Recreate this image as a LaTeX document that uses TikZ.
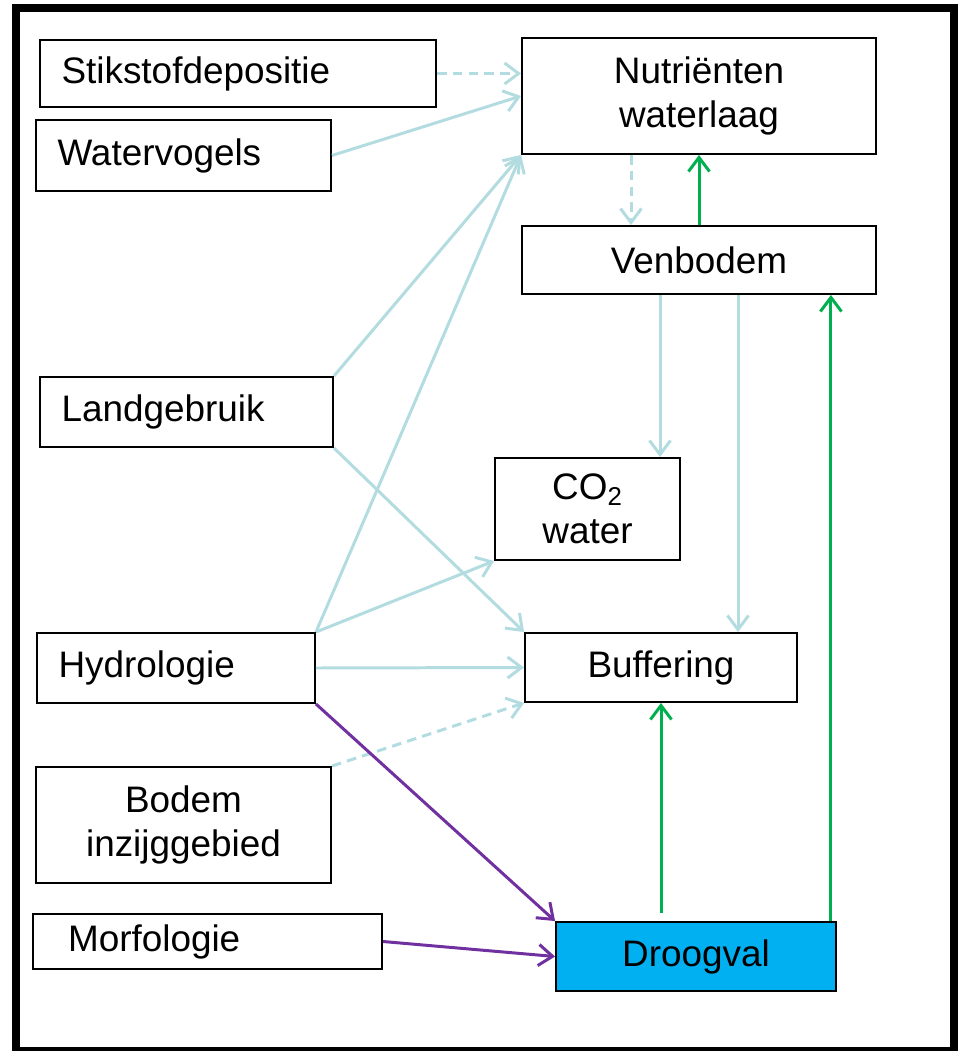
\documentclass[tikz,border=0pt]{standalone}
\usepackage{fontspec}
\setmainfont{Liberation Sans}
\usetikzlibrary{arrows.meta,calc}

\definecolor{lichtblauw}{HTML}{B2DCE0}
\definecolor{groen}{HTML}{00B050}
\definecolor{paars}{HTML}{7030A0}
\definecolor{cyaan}{HTML}{00B0F0}

\begin{document}
\begin{tikzpicture}[x=0.02cm, y=-0.02cm,
    box/.style={draw=black, line width=1.1pt, fill=white, inner sep=0pt, align=center, font=\fontsize{21}{25}\selectfont},
    lbox/.style={box, align=left, inner xsep=0.43cm, text width=#1},
    pijl/.style={line width=1.7pt, -{Straight Barb[length=8pt,width=12pt]}},
    licht/.style={pijl, draw=lichtblauw},
    stippel/.style={licht, dash pattern=on 5.5pt off 3.5pt},
    groenpijl/.style={pijl, draw=groen},
    paarspijl/.style={pijl, draw=paars}]

            \useasboundingbox (0,0) rectangle (961,1051);
            \draw[line width=4.5pt] (16,8) rectangle (954,1051);

            \node[lbox=7.06cm, minimum height=1.34cm] (stik) at (238,73.5) {Stikstofdepositie};
            \node[lbox=5.04cm, minimum height=1.42cm] (vogels) at (183.5,155.5) {Watervogels};
            \node[box, minimum width=7.08cm, minimum height=2.32cm] (nutr) at (699,96) {Nutriënten\\waterlaag};
            \node[box, minimum width=7.08cm, minimum height=1.36cm] (venb) at (699,260) {Venbodem};
            \node[lbox=5.0cm, minimum height=1.4cm] (land) at (186.5,412) {Landgebruik};
            \node[box, minimum width=3.7cm, minimum height=2.04cm] (co2) at (587.5,509) {CO\textsubscript{2}\\water};
            \node[lbox=4.7cm, minimum height=1.4cm] (hydro) at (176,668) {Hydrologie};
            \node[box, minimum width=5.44cm, minimum height=1.38cm] (buff) at (661,667.5) {Buffering};
            \node[box, minimum width=5.9cm, minimum height=2.32cm] (bodem) at (183.5,825) {Bodem\\inzijggebied};
            \node[lbox=5.58cm, inner xsep=0.7cm, minimum height=1.1cm] (morf) at (207.5,941.5) {Morfologie};
            \node[box, fill=cyaan, minimum width=5.6cm, minimum height=1.38cm] (droog) at (696,956.5) {Droogval};

            \coordinate (v1) at ($(venb.south)+(-39,0)$);
            \coordinate (v2) at ($(venb.south)+(39,0)$);
            \coordinate (d1) at ($(buff.south |- droog.north)+(0,-8)$);
            \coordinate (d2) at ($(droog.north east)+(-6,0)$);
            \coordinate (n1) at ($(nutr.south)+(-68,0)$);

            \draw[stippel] (stik.east) -- (stik.east -| nutr.west);
            \draw[licht] (vogels.east) -- (nutr.west);
            \draw[licht] (land.north east) -- (nutr.south west);
            \draw[licht] (hydro.north east) -- (nutr.south west);
            \draw[stippel] (n1) -- (n1 |- venb.north);
            \draw[groenpijl] (venb.north) -- (nutr.south);
            \draw[licht] (v1) -- (v1 |- co2.north);
            \draw[licht] (v2) -- (v2 |- buff.north);
            \draw[licht] (land.south east) -- (buff.north west);
            \draw[licht] (hydro.north east) -- (co2.south west);
            \draw[licht] (hydro.east) -- (buff.west);
            \draw[stippel] (bodem.north east) -- (buff.south west);
            \draw[paarspijl] (hydro.south east) -- (droog.north west);
            \draw[paarspijl] (morf.east) -- (droog.west);
            \draw[groenpijl] (d1) -- (buff.south);
            \draw[groenpijl] (d2) -- (d2 |- venb.south);

        \end{tikzpicture}
\end{document}
